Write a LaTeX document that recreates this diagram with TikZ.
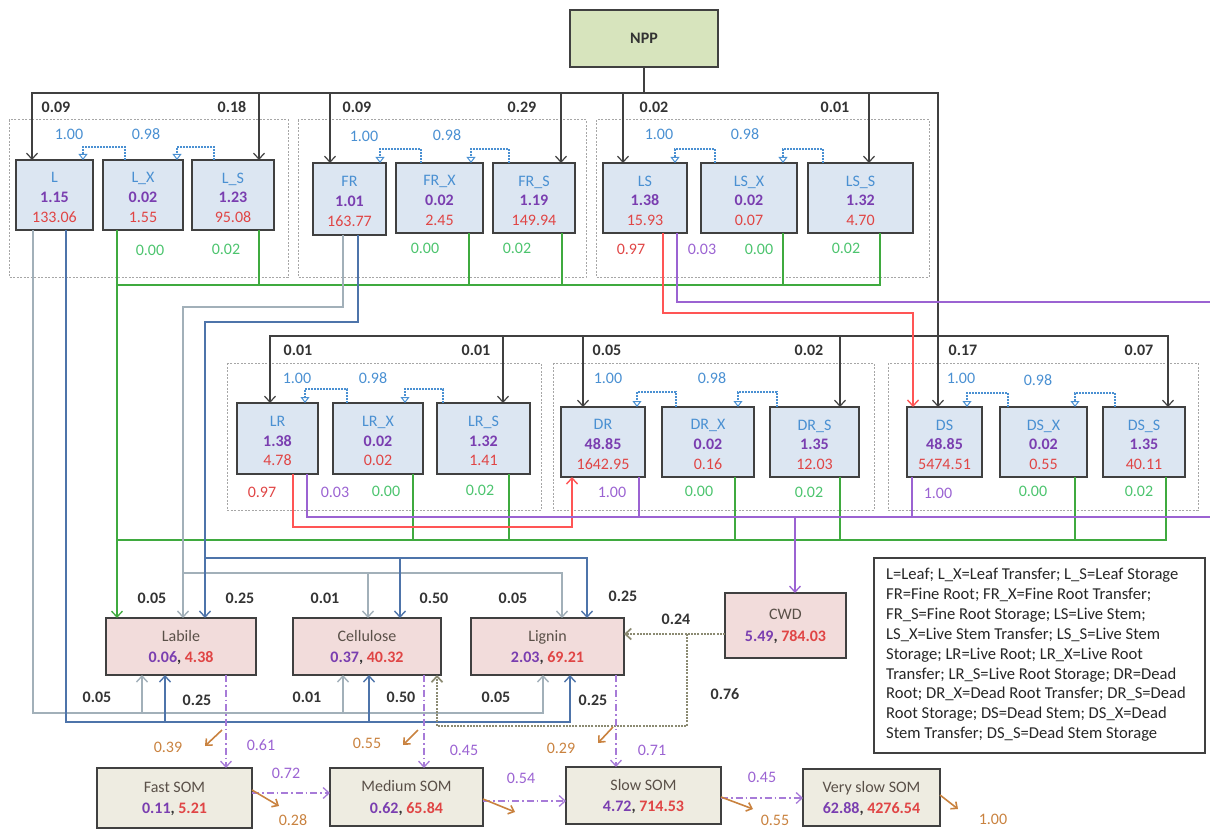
\documentclass[tikz,border=0pt]{standalone}
\usepackage{fontspec}
\setmainfont{Carlito}
\usetikzlibrary{arrows.meta}
\definecolor{cBlack}{HTML}{404040}
\definecolor{cName}{HTML}{4A90D2}
\definecolor{cPur}{HTML}{7A3EB0}
\definecolor{cRed}{HTML}{E04545}
\definecolor{cGreenT}{HTML}{4CC46E}
\definecolor{cGreenL}{HTML}{3FAA3F}
\definecolor{cGrayL}{HTML}{A2B0B9}
\definecolor{cBlueL}{HTML}{4E74AA}
\definecolor{cRedL}{HTML}{FF5555}
\definecolor{cPurL}{HTML}{9B63D2}
\definecolor{cDash}{HTML}{A77BD8}
\definecolor{cOrange}{HTML}{C9823F}
\definecolor{cDotted}{HTML}{8B8A72}
\definecolor{fBlue}{HTML}{DCE6F2}
\definecolor{fPink}{HTML}{F2DCDB}
\definecolor{fBeige}{HTML}{EEECE1}
\definecolor{fGreen}{HTML}{D7E4BD}
\definecolor{cGroup}{HTML}{A6A6A6}
\definecolor{cDark}{HTML}{5A5048}
\definecolor{cLbl}{HTML}{333333}
\tikzset{
 box/.style={draw=cBlack, line width=1.4pt, inner sep=0pt, outer sep=0pt},
 pool/.style={box, fill=fBlue},
 litter/.style={box, fill=fPink},
 som/.style={box, fill=fBeige},
 pooltxt/.style={align=center, inner sep=0pt, font=\fontsize{16}{19.6}\selectfont},
 littxt/.style={align=center, inner sep=0pt, font=\fontsize{16}{21.5}\selectfont},
 grp/.style={draw=cGroup, line width=1pt, dash pattern=on 2pt off 1.5pt},
 arr/.style={-{Straight Barb[length=6pt,width=11pt]}},
 blk/.style={draw=cBlack, line width=1.2pt},
 gline/.style={draw=cGreenL, line width=1.3pt},
 grayln/.style={draw=cGrayL, line width=1.4pt},
 blueln/.style={draw=cBlueL, line width=1.4pt},
 redln/.style={draw=cRedL, line width=1.4pt},
 purln/.style={draw=cPurL, line width=1.3pt},
 dashdot/.style={draw=cDash, line width=1.3pt, dash pattern=on 7pt off 3pt on 1.5pt off 3pt},
 dotln/.style={draw=cDotted, line width=1.7pt, dash pattern=on 2pt off 1.2pt},
 orng/.style={draw=cOrange, line width=1.6pt, -{Straight Barb[length=5pt,width=9pt]}},
 loopln/.style={draw=cName, line width=1.1pt, dash pattern=on 2pt off 1pt, -{Triangle[open,length=6pt,width=9pt,line width=1pt]}},
 lblk/.style={font=\fontsize{16}{19}\selectfont\bfseries, text=cLbl, inner sep=0pt},
 lblue/.style={font=\fontsize{16}{19}\selectfont, text=cName, inner sep=0pt},
 lgreen/.style={font=\fontsize{16}{19}\selectfont, text=cGreenT, inner sep=0pt},
 lred/.style={font=\fontsize{16}{19}\selectfont, text=cRed, inner sep=0pt},
 lpur/.style={font=\fontsize{16}{19}\selectfont, text=cPurL, inner sep=0pt},
 lorng/.style={font=\fontsize{16}{19}\selectfont, text=cOrange, inner sep=0pt},
}
\newcommand\mkpool[8]{%
 \node[pool, minimum width={(#4-#2)*1pt}, minimum height={(#5-#3)*1pt}] (#1) at ({(#2+#4)/2},{(#3+#5)/2}) {};
 \node[pooltxt] (#1-t) at ([yshift=-2.5pt]#1.center) {{\color{cName}#6}\\{\color{cPur}\bfseries #7}\\{\color{cRed}#8}};}
\newcommand\mklit[9]{%
 \node[#9, minimum width={(#4-#2)*1pt}, minimum height={(#5-#3)*1pt}] (#1) at ({(#2+#4)/2},{(#3+#5)/2}) {};
 \node[littxt] (#1-t) at ([yshift=-1pt]#1.center) {{\color{cDark}#6}\\{\bfseries\color{cPur}#7\color{cLbl},\ \color{cRed}#8}};}
\newcommand\mkloop[5]{\draw[loopln] (#1.north -| #2,0) -- ++(0,-#5) -| (#3.north -| #4,0);}
\begin{document}
\begin{tikzpicture}[x=1pt,y=-1pt]
\useasboundingbox (0,0) rectangle (1210,829);
% groups
\draw[grp] (9,120) rectangle (288,277);
\draw[grp] (298,120) rectangle (586,277);
\draw[grp] (596,120) rectangle (929,277);
\draw[grp] (227,363) rectangle (541,510);
\draw[grp] (553,363) rectangle (874,510);
\draw[grp] (888,363) rectangle (1198,510);
% NPP
\node[box, fill=fGreen, minimum width=148pt, minimum height=57pt, font=\fontsize{16}{19}\selectfont\bfseries, text=cLbl] (NPP) at (644,38.5) {NPP};
% pools top
\mkpool{Lf}{16}{160}{93}{230}{L}{1.15}{133.06}
\mkpool{LfX}{103}{160}{183}{230}{L\_X}{0.02}{1.55}
\mkpool{LfS}{192}{160}{274}{230}{L\_S}{1.23}{95.08}
\mkpool{FR}{313}{163}{386}{235}{FR}{1.01}{163.77}
\mkpool{FRX}{396}{163}{483}{233}{FR\_X}{0.02}{2.45}
\mkpool{FRS}{493}{163}{575}{233}{FR\_S}{1.19}{149.94}
\mkpool{LSm}{603}{163}{687}{233}{LS}{1.38}{15.93}
\mkpool{LSmX}{701}{163}{797}{233}{LS\_X}{0.02}{0.07}
\mkpool{LSmS}{808}{163}{913}{233}{LS\_S}{1.32}{4.70}
% pools lower
\mkpool{LRt}{237}{403}{318}{474}{LR}{1.38}{4.78}
\mkpool{LRtX}{333}{403}{423}{474}{LR\_X}{0.02}{0.02}
\mkpool{LRtS}{437}{403}{530}{474}{LR\_S}{1.32}{1.41}
\mkpool{DR}{561}{407}{645}{477}{DR}{48.85}{1642.95}
\mkpool{DRX}{662}{407}{754}{477}{DR\_X}{0.02}{0.16}
\mkpool{DRS}{770}{407}{859}{477}{DR\_S}{1.35}{12.03}
\mkpool{DSm}{907}{407}{982}{477}{DS}{48.85}{5474.51}
\mkpool{DSmX}{1000}{407}{1087}{477}{DS\_X}{0.02}{0.55}
\mkpool{DSmS}{1103}{407}{1185}{477}{DS\_S}{1.35}{40.11}
% litter and SOM
\mklit{Labile}{106}{618}{256}{675}{Labile}{0.06}{4.38}{litter}
\mklit{Cellulose}{293}{618}{441}{675}{Cellulose}{0.37}{40.32}{litter}
\mklit{Lignin}{471}{618}{624}{675}{Lignin}{2.03}{69.21}{litter}
\mklit{CWD}{725}{593}{846}{658}{CWD}{5.49}{784.03}{litter}
\mklit{FastSOM}{97}{768}{252}{828}{Fast SOM}{0.11}{5.21}{som}
\mklit{MedSOM}{330}{768}{483}{826}{Medium SOM}{0.62}{65.84}{som}
\mklit{SlowSOM}{566}{767}{721}{824}{Slow SOM}{4.72}{714.53}{som}
\mklit{VSlowSOM}{803}{769}{940}{826}{Very slow SOM}{62.88}{4276.54}{som}
% legend
\node[draw=cBlack, line width=1.2pt, minimum width=331pt, minimum height=195pt, inner sep=0pt] (legend) at (1039.5,655.5) {};
\node[anchor=north west, align=left, inner sep=0pt, font=\fontsize{16.6}{19.9}\selectfont, text=black!85] (legend-t) at (886,568) {L=Leaf; L\_X=Leaf Transfer; L\_S=Leaf Storage\\FR=Fine Root; FR\_X=Fine Root Transfer;\\FR\_S=Fine Root Storage; LS=Live Stem;\\LS\_X=Live Stem Transfer; LS\_S=Live Stem\\Storage; LR=Live Root; LR\_X=Live Root\\Transfer; LR\_S=Live Root Storage; DR=Dead\\Root; DR\_X=Dead Root Transfer; DR\_S=Dead\\Root Storage; DS=Dead Stem; DS\_X=Dead\\Stem Transfer; DS\_S=Dead Stem Storage};
% black allocation tree
\coordinate (j0) at (644,93);
\coordinate (j1) at (938,336);
\draw[blk] (NPP.south) -- (j0);
\draw[blk,arr] (j0) -| (Lf.north -| 32,0);
\draw[blk,arr] (j0) -| (LfS.north -| 259,0);
\draw[blk,arr] (j0) -| (FR.north -| 330,0);
\draw[blk,arr] (j0) -| (FRS.north -| 561,0);
\draw[blk,arr] (j0) -| (LSm.north -| 623,0);
\draw[blk,arr] (j0) -| (LSmS.north -| 869,0);
\draw[blk,arr] (j0) -| (DSm.north -| 938,0);
\draw[blk,arr] (j1) -| (LRt.north -| 270,0);
\draw[blk,arr] (j1) -| (LRtS.north -| 503,0);
\draw[blk,arr] (j1) -| (DR.north -| 583,0);
\draw[blk,arr] (j1) -| (DRS.north -| 840,0);
\draw[blk,arr] (j1) -| (DSmS.north -| 1168,0);
% loops
\mkloop{LfX}{125}{Lf}{83}{13}
\mkloop{LfS}{214}{LfX}{177}{13}
\mkloop{FRX}{421}{FR}{380}{14}
\mkloop{FRS}{509}{FRX}{471}{14}
\mkloop{LSmX}{715}{LSm}{675}{14}
\mkloop{LSmS}{823}{LSmX}{783}{14}
\mkloop{LRtX}{347}{LRt}{305}{14}
\mkloop{LRtS}{443}{LRtX}{405}{14}
\mkloop{DRX}{676}{DR}{637}{15}
\mkloop{DRS}{777}{DRX}{738}{15}
\mkloop{DSmX}{1008}{DSm}{967}{14}
\mkloop{DSmS}{1115}{DSmX}{1075}{14}
% green storage flows to labile
\coordinate (g1) at (117,285);
\coordinate (g2) at (117,540);
\draw[gline,arr] (LfX.south -| 117,0) -- (Labile.north -| 117,0);
\draw[gline] (LfS.south -| 259,0) |- (g1);
\draw[gline] (FRX.south -| 469,0) |- (g1);
\draw[gline] (FRS.south -| 562,0) |- (g1);
\draw[gline] (LSmX.south -| 783,0) |- (g1);
\draw[gline] (LSmS.south -| 880,0) |- (g1);
\draw[gline] (LRtX.south -| 413,0) |- (g2);
\draw[gline] (LRtS.south -| 509,0) |- (g2);
\draw[gline] (DRX.south -| 735,0) |- (g2);
\draw[gline] (DRS.south -| 840,0) |- (g2);
\draw[gline] (DSmX.south -| 1075,0) |- (g2);
\draw[gline] (DSmS.south -| 1166,0) |- (g2);
% leaf litter (below)
\coordinate (a1) at (142,713);
\coordinate (a2) at (343,713);
\coordinate (b1) at (165,722);
\coordinate (b2) at (369,722);
\draw[grayln,arr] (Lf.south -| 33,0) |- (543,713) -- (Lignin.south -| 543,0);
\draw[grayln,arr] (a1) -- (Labile.south -| a1);
\draw[grayln,arr] (a2) -- (Cellulose.south -| a2);
\draw[blueln,arr] (Lf.south -| 66,0) |- (570,722) -- (Lignin.south -| 570,0);
\draw[blueln,arr] (b1) -- (Labile.south -| b1);
\draw[blueln,arr] (b2) -- (Cellulose.south -| b2);
% fine root litter (above)
\coordinate (c1) at (183,573);
\coordinate (c2) at (368,573);
\coordinate (d1) at (205,558);
\coordinate (d2) at (400,558);
\draw[grayln,arr] (FR.south -| 343,0) |- (183,307) -- (Labile.north -| 183,0);
\draw[grayln,arr] (c1) -| (Lignin.north -| 562,0);
\draw[grayln,arr] (c2) -- (Cellulose.north -| c2);
\draw[blueln,arr] (FR.south -| 358,0) |- (205,322) -- (Labile.north -| 205,0);
\draw[blueln,arr] (d1) -| (Lignin.north -| 587,0);
\draw[blueln,arr] (d2) -- (Cellulose.north -| d2);
% live to dead, and to CWD
\coordinate (pr1) at (1212,302);
\coordinate (pr2) at (1212,517);
\coordinate (pc) at (795,517);
\draw[redln,arr] (LSm.south -| 663,0) |- (913,313) -- (DSm.north -| 913,0);
\draw[purln] (LSm.south -| 677,0) |- (pr1);
\draw[redln,arr] (LRt.south -| 293,0) |- (572,527) -- (DR.south -| 572,0);
\draw[purln] (LRt.south -| 307,0) |- (pr2);
\draw[purln] (DR.south -| 639,0) -- (639,517);
\draw[purln] (DSm.south -| 912,0) -- (912,517);
\draw[purln,arr] (pc) -- (CWD.north -| pc);
% CWD to lignin / cellulose
\coordinate (w1) at (687,634);
\draw[dotln,arr] (CWD.west |- w1) -- (Lignin.east |- w1);
\draw[dotln,arr] (w1) |- (437,726) -- (Cellulose.south -| 437,0);
% decomposition
\draw[dashdot,arr] (Labile.south -| 226,0) -- (FastSOM.north -| 226,0);
\draw[dashdot,arr] (Cellulose.south -| 424,0) -- (MedSOM.north -| 424,0);
\draw[dashdot,arr] (Lignin.south -| 616,0) -- (SlowSOM.north -| 616,0);
\draw[dashdot,arr] (FastSOM.east |- 0,793) -- (MedSOM.west |- 0,793);
\draw[dashdot,arr] (MedSOM.east |- 0,801) -- (SlowSOM.west |- 0,801);
\draw[dashdot,arr] (SlowSOM.east |- 0,798) -- (VSlowSOM.west |- 0,798);
% respiration
\draw[orng] (222,730) -- (205,746);
\draw[orng] (418,730) -- (403,745);
\draw[orng] (613,727) -- (598,743);
\draw[orng] (FastSOM.east |- 0,790) -- (279,806);
\draw[orng] (MedSOM.east |- 0,799) -- (515,812);
\draw[orng] (SlowSOM.east |- 0,797) -- (753,809);
\draw[orng] (VSlowSOM.east |- 0,795) -- (958,809);
% labels black
\node[lblk] (t1) at (56,107) {0.09};
\node[lblk] (t2) at (232,107) {0.18};
\node[lblk] (t3) at (357,107) {0.09};
\node[lblk] (t4) at (522,107) {0.29};
\node[lblk] (t5) at (654,107) {0.02};
\node[lblk] (t6) at (835,107) {0.01};
\node[lblk] (t7) at (298,350) {0.01};
\node[lblk] (t8) at (476,350) {0.01};
\node[lblk] (t9) at (607,350) {0.05};
\node[lblk] (t10) at (809,350) {0.02};
\node[lblk] (t11) at (963,350) {0.17};
\node[lblk] (t12) at (1139,350) {0.07};
\node[lblk] (t13) at (152,598) {0.05};
\node[lblk] (t14) at (240,598) {0.25};
\node[lblk] (t15) at (325,598) {0.01};
\node[lblk] (t16) at (434,598) {0.50};
\node[lblk] (t17) at (513,598) {0.05};
\node[lblk] (t18) at (623,596) {0.25};
\node[lblk] (t19) at (97,697) {0.05};
\node[lblk] (t20) at (197,700) {0.25};
\node[lblk] (t21) at (307,697) {0.01};
\node[lblk] (t22) at (401,697) {0.50};
\node[lblk] (t23) at (496,697) {0.05};
\node[lblk] (t24) at (593,700) {0.25};
\node[lblk] (t25) at (676,619) {0.24};
\node[lblk] (t26) at (725,694) {0.76};
% labels blue
\node[lblue] (u1) at (69,134) {1.00};
\node[lblue] (u2) at (146,134) {0.98};
\node[lblue] (u3) at (364,136) {1.00};
\node[lblue] (u4) at (447,135) {0.98};
\node[lblue] (u5) at (659,134) {1.00};
\node[lblue] (u6) at (745,134) {0.98};
\node[lblue] (u7) at (297,378) {1.00};
\node[lblue] (u8) at (373,378) {0.98};
\node[lblue] (u9) at (608,378) {1.00};
\node[lblue] (u10) at (712,378) {0.98};
\node[lblue] (u11) at (961,378) {1.00};
\node[lblue] (u12) at (1038,380) {0.98};
% labels green
\node[lgreen] (v1) at (150,250) {0.00};
\node[lgreen] (v2) at (226,249) {0.02};
\node[lgreen] (v3) at (425,248) {0.00};
\node[lgreen] (v4) at (517,248) {0.02};
\node[lgreen] (v5) at (759,249) {0.00};
\node[lgreen] (v6) at (846,248) {0.02};
\node[lgreen] (v7) at (386,491) {0.00};
\node[lgreen] (v8) at (480,490) {0.02};
\node[lgreen] (v9) at (699,491) {0.00};
\node[lgreen] (v10) at (809,492) {0.02};
\node[lgreen] (v11) at (1033,491) {0.00};
\node[lgreen] (v12) at (1139,491) {0.02};
% labels red / purple / orange
\node[lred] (r1) at (631,249) {0.97};
\node[lred] (r2) at (262,492) {0.97};
\node[lpur] (p1) at (702,249) {0.03};
\node[lpur] (p2) at (335,492) {0.03};
\node[lpur] (p3) at (612,492) {1.00};
\node[lpur] (p4) at (938,493) {1.00};
\node[lpur] (p5) at (261,745) {0.61};
\node[lpur] (p6) at (464,750) {0.45};
\node[lpur] (p7) at (652,750) {0.71};
\node[lpur] (p8) at (286,773) {0.72};
\node[lpur] (p9) at (521,778) {0.54};
\node[lpur] (p10) at (762,777) {0.45};
\node[lorng] (o1) at (168,747) {0.39};
\node[lorng] (o2) at (367,743) {0.55};
\node[lorng] (o3) at (561,748) {0.29};
\node[lorng] (o4) at (293,820) {0.28};
\node[lorng] (o5) at (775,820) {0.55};
\node[lorng] (o6) at (993,819) {1.00};
\end{tikzpicture}
\end{document}
